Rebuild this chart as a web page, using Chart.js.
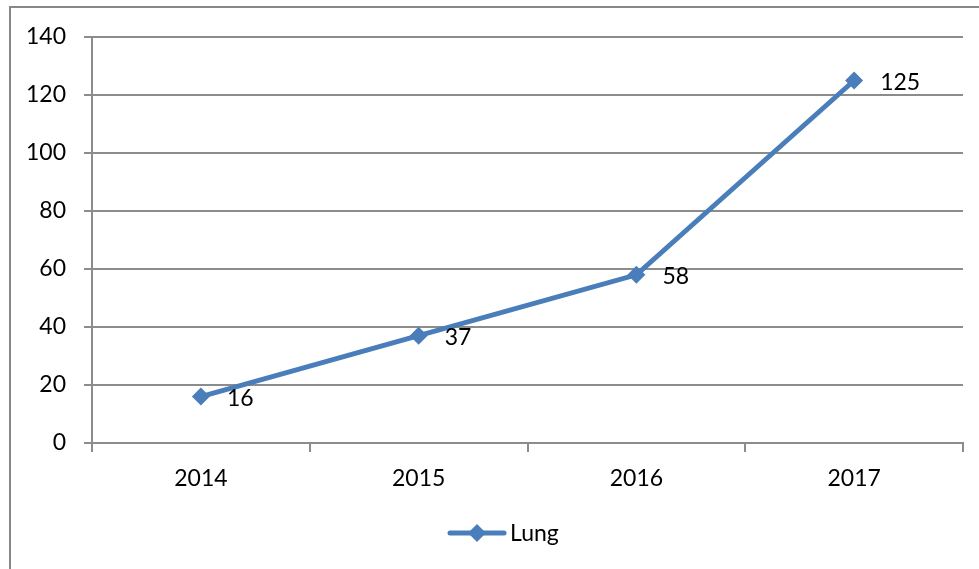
<!DOCTYPE html>
<html>
<head>
<meta charset="utf-8">
<script src="https://cdn.jsdelivr.net/npm/chart.js@4"></script>
<style>
  html, body { margin: 0; padding: 0; background: #fff; }
  #wrap { width: 979px; height: 569px; }
</style>
</head>
<body>
<div id="wrap"><canvas id="chart" width="979" height="569"></canvas></div>
<script>
// DATI
const years = ['2014', '2015', '2016', '2017'];
const lungValues = [16, 37, 58, 125];
const seriesName = 'Lung';
const yTicks = [0, 20, 40, 60, 80, 100, 120, 140];

const blue = '#4a7ebb';
const gridGray = '#8c8c8c';
const font = { family: 'Lato, "Open Sans", sans-serif', size: 23 };

// cornice esterna + etichette + legenda
const extras = {
    id: 'extras',
    beforeDraw(chart) {
        const c = chart.ctx;
        c.save();
        c.strokeStyle = '#888';
        c.lineWidth = 2;
        c.strokeRect(10, 7, 1100, 1100);
        c.restore();
    },
    afterDatasetsDraw(chart) {
        const c = chart.ctx;
        const meta = chart.getDatasetMeta(0);
        c.save();
        c.font = font.size + 'px ' + font.family;
        c.fillStyle = '#000';
        c.textBaseline = 'middle';
        c.textAlign = 'left';
        meta.data.forEach((pt, i) => {
            c.fillText(String(lungValues[i]), pt.x + 26, pt.y + 2);
        });

        // legenda
        const ly = 533;
        c.strokeStyle = blue;
        c.lineWidth = 5;
        c.lineCap = 'round';
        c.beginPath();
        c.moveTo(450, ly);
        c.lineTo(504, ly);
        c.stroke();
        c.fillStyle = blue;
        c.beginPath();
        c.moveTo(477 - 9, ly);
        c.lineTo(477, ly - 9);
        c.lineTo(477 + 9, ly);
        c.lineTo(477, ly + 9);
        c.closePath();
        c.fill();
        c.fillStyle = '#000';
        c.fillText(seriesName, 510, ly + 1);
        c.restore();
    }
};

new Chart(document.getElementById('chart'), {
    type: 'line',
    data: {
        labels: years,
        datasets: [{
            label: seriesName,
            data: lungValues,
            borderColor: blue,
            backgroundColor: blue,
            borderWidth: 5,
            pointStyle: 'rectRot',
            pointRadius: 9,
            pointBorderWidth: 0,
            tension: 0
        }]
    },
    options: {
        responsive: false,
        animation: false,
        layout: { padding: { top: 37, right: 16, bottom: 66, left: 0 } },
        plugins: { legend: { display: false }, tooltip: { enabled: false } },
        scales: {
            x: {
                type: 'category',
                offset: true,
                afterFit(s) { s.height = 60; },
                grid: { offset: true, drawOnChartArea: false, tickLength: 9, color: gridGray, lineWidth: 2 },
                border: { color: gridGray, width: 2 },
                ticks: { color: '#000', font: font, padding: 13, maxRotation: 0 }
            },
            y: {
                min: 0,
                max: 140,
                afterFit(s) { s.width = 92; },
                afterBuildTicks(s) { s.ticks = yTicks.map(v => ({ value: v })); },
                grid: { color: gridGray, lineWidth: 2, tickLength: 8 },
                border: { color: gridGray, width: 2 },
                ticks: { color: '#000', font: font, padding: 18 }
            }
        }
    },
    plugins: [extras]
});
</script>
</body>
</html>
